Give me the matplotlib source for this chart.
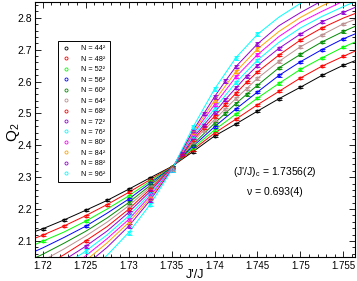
import matplotlib
matplotlib.use("Agg")
import matplotlib.pyplot as plt
from matplotlib.lines import Line2D
from matplotlib.ticker import FixedLocator, FixedFormatter, MultipleLocator

plt.rcParams["font.family"] = ["Liberation Sans", "DejaVu Sans"]
plt.rcParams["mathtext.fontset"] = "custom"
plt.rcParams["mathtext.rm"] = "Liberation Sans"
plt.rcParams["mathtext.it"] = "Liberation Sans:italic"

# system sizes, N = L^2
L_VALUES = [44, 48, 52, 56, 60, 64, 68, 72, 76, 80, 84, 88, 96]
COLORS = ["#000000", "#ff0000", "#00ff00", "#0000ff", "#008b00", "#bc8f8f", "#ff0000",
          "#9400d3", "#00ffff", "#ff00ff", "#ffa500", "#9400d3", "#00ffff"]
ERRS = [0.003, 0.003, 0.0035, 0.0035, 0.004, 0.004, 0.004, 0.0045, 0.005, 0.005, 0.005, 0.0055, 0.006]

# fitted curves, sampled on a common J'/J grid
CURVE_X = [1.717, 1.72, 1.7225, 1.725, 1.7275, 1.73, 1.7325, 1.735, 1.7375, 1.74,
           1.7425, 1.745, 1.7475, 1.75, 1.7525, 1.755, 1.7575]
curve_44 = [2.110, 2.138, 2.166, 2.196, 2.227, 2.262, 2.298, 2.333, 2.380, 2.429, 2.467, 2.507, 2.546, 2.582, 2.619, 2.651, 2.677]
curve_48 = [2.086, 2.118, 2.147, 2.179, 2.214, 2.252, 2.292, 2.332, 2.386, 2.438, 2.482, 2.527, 2.569, 2.611, 2.648, 2.679, 2.709]
curve_52 = [2.064, 2.099, 2.128, 2.162, 2.200, 2.241, 2.287, 2.331, 2.391, 2.448, 2.498, 2.548, 2.594, 2.638, 2.674, 2.708, 2.737]
curve_56 = [2.042, 2.078, 2.111, 2.146, 2.187, 2.231, 2.281, 2.330, 2.397, 2.458, 2.514, 2.567, 2.619, 2.662, 2.700, 2.734, 2.762]
curve_60 = [2.020, 2.058, 2.093, 2.130, 2.172, 2.220, 2.274, 2.329, 2.403, 2.469, 2.531, 2.588, 2.643, 2.685, 2.724, 2.757, 2.786]
curve_64 = [1.997, 2.038, 2.075, 2.115, 2.159, 2.210, 2.268, 2.328, 2.410, 2.480, 2.547, 2.610, 2.663, 2.709, 2.746, 2.781, 2.806]
curve_68 = [1.973, 2.019, 2.057, 2.100, 2.145, 2.199, 2.262, 2.328, 2.416, 2.491, 2.563, 2.630, 2.683, 2.730, 2.768, 2.799, 2.825]
curve_72 = [1.949, 1.999, 2.040, 2.083, 2.131, 2.189, 2.255, 2.327, 2.423, 2.503, 2.580, 2.650, 2.704, 2.749, 2.787, 2.817, 2.845]
curve_76 = [1.926, 1.979, 2.023, 2.068, 2.119, 2.178, 2.248, 2.326, 2.429, 2.515, 2.597, 2.667, 2.723, 2.768, 2.804, 2.835, 2.863]
curve_80 = [1.901, 1.958, 2.005, 2.053, 2.107, 2.167, 2.241, 2.325, 2.435, 2.527, 2.615, 2.684, 2.741, 2.786, 2.820, 2.852, 2.882]
curve_84 = [1.876, 1.937, 1.988, 2.038, 2.094, 2.157, 2.234, 2.324, 2.440, 2.540, 2.631, 2.702, 2.757, 2.801, 2.837, 2.869, 2.901]
curve_88 = [1.850, 1.915, 1.969, 2.024, 2.080, 2.146, 2.227, 2.323, 2.446, 2.552, 2.647, 2.718, 2.775, 2.816, 2.853, 2.886, 2.920]
curve_96 = [1.796, 1.870, 1.932, 1.994, 2.055, 2.126, 2.214, 2.321, 2.457, 2.576, 2.675, 2.748, 2.802, 2.845, 2.884, 2.920, 2.960]

# measured points
pts_x_44 = [1.72, 1.7225, 1.725, 1.7275, 1.73, 1.7325, 1.735, 1.7375, 1.74, 1.7425, 1.745, 1.7475, 1.75, 1.7525, 1.755]
pts_q_44 = [2.138, 2.166, 2.196, 2.227, 2.262, 2.298, 2.333, 2.380, 2.429, 2.467, 2.507, 2.546, 2.582, 2.619, 2.651]
pts_x_48 = [1.72, 1.7225, 1.725, 1.7275, 1.73, 1.7325, 1.735, 1.7375, 1.74, 1.7425, 1.745, 1.7475, 1.75, 1.7525, 1.755]
pts_q_48 = [2.118, 2.147, 2.179, 2.214, 2.252, 2.292, 2.332, 2.386, 2.438, 2.482, 2.527, 2.569, 2.611, 2.648, 2.679]
pts_x_52 = [1.72, 1.725, 1.73, 1.7325, 1.735, 1.7375, 1.74, 1.7425, 1.745, 1.7475, 1.75, 1.7525, 1.755]
pts_q_52 = [2.099, 2.162, 2.241, 2.287, 2.331, 2.391, 2.448, 2.498, 2.548, 2.594, 2.638, 2.674, 2.708]
pts_x_56 = [1.725, 1.73, 1.7325, 1.735, 1.7375, 1.74, 1.7425, 1.745, 1.7475, 1.75, 1.7525, 1.755]
pts_q_56 = [2.146, 2.231, 2.281, 2.330, 2.397, 2.458, 2.514, 2.567, 2.619, 2.662, 2.700, 2.734]
pts_x_60 = [1.73, 1.7325, 1.735, 1.7375, 1.74, 1.74125, 1.7425, 1.74375, 1.745, 1.7475, 1.75, 1.7525, 1.755]
pts_q_60 = [2.220, 2.274, 2.329, 2.403, 2.469, 2.500, 2.531, 2.560, 2.588, 2.643, 2.685, 2.724, 2.757]
pts_x_64 = [1.73, 1.7325, 1.735, 1.7375, 1.73875, 1.74, 1.74125, 1.7425, 1.74375, 1.745, 1.7475, 1.75, 1.7525, 1.755]
pts_q_64 = [2.210, 2.268, 2.328, 2.410, 2.447, 2.480, 2.514, 2.547, 2.578, 2.610, 2.663, 2.709, 2.746, 2.781]
pts_x_68 = [1.725, 1.73, 1.7325, 1.735, 1.73625, 1.7375, 1.73875, 1.74, 1.74125, 1.7425, 1.74375, 1.745, 1.7475, 1.75, 1.7525]
pts_q_68 = [2.100, 2.199, 2.262, 2.328, 2.370, 2.416, 2.455, 2.491, 2.528, 2.563, 2.598, 2.630, 2.683, 2.730, 2.768]
pts_x_72 = [1.725, 1.73, 1.7325, 1.735, 1.73625, 1.7375, 1.73875, 1.74, 1.74125, 1.7425, 1.74375, 1.745, 1.7475, 1.75, 1.7525, 1.755]
pts_q_72 = [2.083, 2.189, 2.255, 2.327, 2.373, 2.423, 2.463, 2.503, 2.543, 2.580, 2.617, 2.650, 2.704, 2.749, 2.787, 2.817]
pts_x_76 = [1.725, 1.73, 1.7325, 1.735, 1.7375, 1.74, 1.7425, 1.745]
pts_q_76 = [2.068, 2.178, 2.248, 2.326, 2.429, 2.515, 2.597, 2.667]
pts_x_80 = [1.73, 1.7325, 1.735, 1.7375, 1.74, 1.7425, 1.745]
pts_q_80 = [2.167, 2.241, 2.325, 2.435, 2.527, 2.615, 2.684]
pts_x_84 = [1.73, 1.7325, 1.735, 1.7375, 1.74, 1.7425, 1.745]
pts_q_84 = [2.157, 2.234, 2.324, 2.440, 2.540, 2.631, 2.702]
pts_x_88 = [1.73, 1.7325, 1.735, 1.7375, 1.73875, 1.74, 1.74125, 1.7425, 1.745]
pts_q_88 = [2.146, 2.227, 2.323, 2.446, 2.499, 2.552, 2.601, 2.647, 2.718]
pts_x_96 = [1.73, 1.7325, 1.735, 1.7375, 1.74, 1.7425, 1.745]
pts_q_96 = [2.126, 2.214, 2.321, 2.457, 2.576, 2.675, 2.748]

CURVES = [curve_44, curve_48, curve_52, curve_56, curve_60, curve_64, curve_68,
          curve_72, curve_76, curve_80, curve_84, curve_88, curve_96]
PTS_X = [pts_x_44, pts_x_48, pts_x_52, pts_x_56, pts_x_60, pts_x_64, pts_x_68,
         pts_x_72, pts_x_76, pts_x_80, pts_x_84, pts_x_88, pts_x_96]
PTS_Q = [pts_q_44, pts_q_48, pts_q_52, pts_q_56, pts_q_60, pts_q_64, pts_q_68,
         pts_q_72, pts_q_76, pts_q_80, pts_q_84, pts_q_88, pts_q_96]

X_TICKS = [1.72, 1.725, 1.73, 1.735, 1.74, 1.745, 1.75, 1.755]
X_TICK_LABELS = ["1.72", "1.725", "1.73", "1.735", "1.74", "1.745", "1.75", "1.755"]
Y_TICKS = [2.1, 2.2, 2.3, 2.4, 2.5, 2.6, 2.7, 2.8]
Y_TICK_LABELS = ["2.1", "2.2", "2.3", "2.4", "2.5", "2.6", "2.7", "2.8"]


def merged_line(cx, cq, px, pq):
    pts = dict(zip(cx, cq))
    pts.update(zip(px, pq))
    xs = sorted(pts)
    return xs, [pts[x] for x in xs]


def main():
    fig = plt.figure(figsize=(3.57, 2.81), dpi=100)
    ax = fig.add_axes([35 / 357, 1 - 256.5 / 281, 319.5 / 357, 255 / 281])

    for L, color, err, cq, px, pq in zip(L_VALUES, COLORS, ERRS, CURVES, PTS_X, PTS_Q):
        lx, ly = merged_line(CURVE_X, cq, px, pq)
        ax.plot(lx, ly, color=color, lw=0.7, zorder=2)
        ax.errorbar(px, pq, yerr=err, fmt="o", ms=2.2, mfc="none", mec=color, mew=0.6,
                    ecolor=color, elinewidth=0.6, capsize=1.8, capthick=0.6, zorder=3)

    ax.set_xlim(1.7191, 1.7563)
    ax.set_ylim(2.051, 2.851)
    ax.xaxis.set_major_locator(FixedLocator(X_TICKS))
    ax.xaxis.set_major_formatter(FixedFormatter(X_TICK_LABELS))
    ax.xaxis.set_minor_locator(MultipleLocator(0.001))
    ax.yaxis.set_major_locator(FixedLocator(Y_TICKS))
    ax.yaxis.set_major_formatter(FixedFormatter(Y_TICK_LABELS))
    ax.yaxis.set_minor_locator(MultipleLocator(0.02))
    ax.tick_params(which="both", direction="in", top=True, right=True, width=0.6)
    ax.tick_params(which="major", length=4.5)
    ax.tick_params(which="minor", length=2.5)
    ax.tick_params(axis="x", pad=3, labelsize=7)
    ax.tick_params(axis="y", pad=2, labelsize=7.5)
    for sp in ax.spines.values():
        sp.set_linewidth(0.8)

    ax.set_xlabel("J'/J", fontsize=9)
    ax.xaxis.set_label_coords(0.5, -0.048)
    ax.set_ylabel(r"Q$_\mathregular{2}$", fontsize=11)
    ax.yaxis.set_label_coords(-0.04, 0.485)

    ax.text(0.751, 0.333, r"(J'/J)$_\mathregular{c}$ = 1.7356(2)", transform=ax.transAxes,
            ha="center", va="center", fontsize=7.5)
    ax.text(0.751, 0.253, "\u03bd = 0.693(4)", transform=ax.transAxes,
            ha="center", va="center", fontsize=7.5)

    handles = [Line2D([], [], ls="none", marker="o", ms=2.2, mfc="none", mec=c, mew=0.6)
               for c in COLORS]
    labels = ["N = %d\u00b2" % L for L in L_VALUES]
    leg = ax.legend(handles, labels, loc="upper left", bbox_to_anchor=(0.072, 0.845),
                    fontsize=5.2, frameon=True, fancybox=False, framealpha=1,
                    edgecolor="black", handlelength=1.0, handletextpad=1.6,
                    labelspacing=0.47, borderpad=0.6, borderaxespad=0)
    leg.get_frame().set_linewidth(0.7)

    fig.savefig("out.png", dpi=100)
    plt.close(fig)


if __name__ == "__main__":
    main()
